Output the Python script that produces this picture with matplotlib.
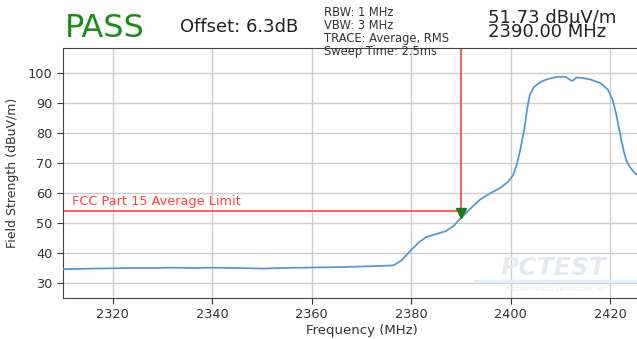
import matplotlib
matplotlib.use("Agg")
import matplotlib.pyplot as plt

# trace
freq = [2310, 2313, 2316, 2320, 2324, 2328, 2332, 2336, 2340, 2344, 2348, 2350,
        2354, 2358, 2362, 2366, 2370, 2374, 2376.5, 2378, 2380, 2381.5, 2383,
        2385, 2387, 2388.5, 2390, 2391, 2392.5, 2394, 2396, 2398, 2399.5, 2400.5,
        2401.3, 2402, 2402.7, 2403.3, 2403.8, 2404.7, 2406, 2407.5, 2409.5, 2411,
        2412, 2412.5, 2413.2, 2414.5, 2416, 2418, 2419.5, 2420.5, 2421.3, 2422,
        2422.7, 2423.3, 2424, 2425, 2426, 2428, 2430]
level = [34.6, 34.7, 34.8, 34.9, 35.0, 35.0, 35.1, 35.0, 35.1, 35.0, 34.9, 34.8,
         35.0, 35.1, 35.2, 35.3, 35.5, 35.7, 35.9, 37.5, 41.0, 43.5, 45.3,
         46.3, 47.3, 49.0, 51.7, 53.3, 55.8, 58.0, 60.0, 61.8, 63.8, 66.0,
         70.0, 75.0, 81.0, 88.0, 92.5, 95.4, 97.0, 98.0, 98.7, 98.7,
         97.6, 97.4, 98.5, 98.3, 97.8, 96.6, 94.5, 91.0, 85.5, 79.5,
         74.0, 70.5, 68.5, 66.5, 65.5, 64.5, 64.0]

limit = 54
marker_f = 2390
marker_level = 53.3
xticks = [2320, 2340, 2360, 2380, 2400, 2420]
yticks = [30, 40, 50, 60, 70, 80, 90, 100]
info_lines = ["RBW: 1 MHz", "VBW: 3 MHz", "TRACE: Average, RMS", "Sweep Time: 2.5ms"]
readout = ["51.73 dBµV/m", "2390.00 MHz"]

fig = plt.figure(figsize=(6.37, 3.39), dpi=100)
ax = fig.add_axes([63/637, 41/339, 597/637, 250/339])

ax.plot(freq, level, color="#5599d0", lw=1.3, zorder=3)
ax.plot([2310, marker_f], [limit, limit], color="#ff4d4d", lw=1.3, zorder=2)
ax.plot([marker_f, marker_f], [marker_level, 108.3], color="#ff4d4d", lw=1.3, zorder=2)
ax.plot([marker_f], [marker_level], marker="v", color="#1a7a1a", ms=7, zorder=4)
ax.text(2311.8, 56, "FCC Part 15 Average Limit", color="#ff4040", fontsize=9.3)

# faint watermark
ax.text(2398, 32.5, "PCTEST", fontsize=18, fontweight="bold", style="italic",
        color="#e6eaee", zorder=1)
ax.plot([2393, 2430], [30.8, 30.8], color="#e3eef8", lw=2.5, zorder=1)
ax.text(2399, 27.3, "ENGINEERING LABORATORY, INC.", fontsize=4.5, color="#e6eaee", zorder=1)

ax.set_xlim(2310, 2430)
ax.set_ylim(25, 108.3)
ax.set_xticks(xticks)
ax.set_yticks(yticks)
ax.grid(True, color="#cccccc", lw=1)
ax.set_axisbelow(True)
ax.tick_params(labelsize=9.3, colors="#333333", length=4)
for s in ax.spines.values():
    s.set_color("#444444")
ax.set_xlabel("Frequency (MHz)", fontsize=9.5, color="#333333", labelpad=2)
ax.set_ylabel("Field Strength (dBuV/m)", fontsize=9, color="#333333", labelpad=6)

fig.text(65/637, 1 - 36.7/339, "PASS", color="#1a8c1a", fontsize=23)
fig.text(180/637, 1 - 32/339, "Offset: 6.3dB", color="#222222", fontsize=13)
fig.text(324/637, 1 - 6/339, "\n".join(info_lines), color="#333333", fontsize=8.3,
         va="top", linespacing=1.0)
fig.text(488/637, 1 - 9/339, "\n".join(readout), color="#222222", fontsize=13,
         va="top", linespacing=0.72)

fig.savefig("out.png", dpi=100)
